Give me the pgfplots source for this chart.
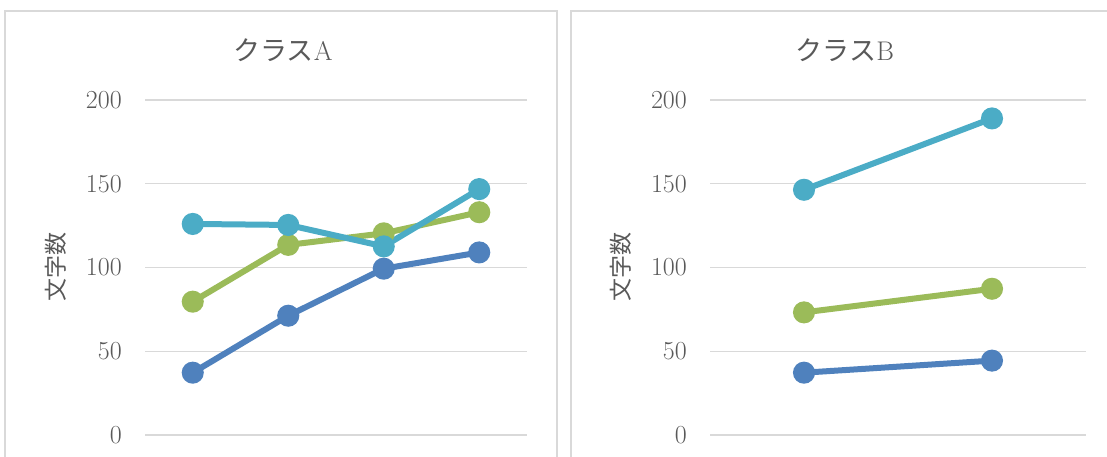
\documentclass[border=0pt]{standalone}
\usepackage{fontspec}
\usepackage{pgfplots}
\pgfplotsset{compat=1.18}
\newfontfamily\jp{Noto Sans CJK JP}
\definecolor{sBlue}{HTML}{4F81BD}
\definecolor{sGreen}{HTML}{9BBB59}
\definecolor{sCyan}{HTML}{4BACC6}
\definecolor{txt}{HTML}{595959}
\definecolor{gridc}{HTML}{D9D9D9}
\pgfplotsset{
  panel/.style={
    scale only axis, height=335pt, ymin=0, ymax=200, ytick={0,50,...,200},
    xtick=\empty, axis line style={draw=none}, major tick length=0pt,
    ymajorgrids, grid style={gridc, line width=1.3pt},
    /pgf/number format/assume math mode=true,
    yticklabel style={font=\fontsize{26}{30}\selectfont, text=txt, inner sep=0pt, xshift=-23pt},
    ylabel={\jp 文字数},
    ylabel style={at={(axis description cs:0,0.5)}, anchor=center, yshift=89pt, font=\fontsize{23}{26}\selectfont, text=txt},
    every axis plot/.append style={line width=6pt, mark=*, mark size=8pt, mark options={solid}},
    clip=false,
  }
}
\begin{document}
\begin{tikzpicture}[x=1pt,y=1pt]
\useasboundingbox (0,0) rectangle (1107,457);
\draw[gridc, line width=1.5pt] (5,-20) rectangle (557,446);
\draw[gridc, line width=1.5pt] (571,-20) rectangle (1140,446);
\node[text=txt, font=\fontsize{27}{30}\selectfont] at (283,407) {{\jp クラス}A};
\node[text=txt, font=\fontsize{27}{30}\selectfont] at (845,407) {{\jp クラス}B};
\begin{axis}[panel, at={(145pt,22pt)}, anchor=south west, width=382pt, xmin=0.5, xmax=4.5]
\addplot[sBlue] coordinates {(1,37.2) (2,71.2) (3,99.3) (4,109)};
\addplot[sGreen] coordinates {(1,79.6) (2,113.5) (3,120.4) (4,133)};
\addplot[sCyan] coordinates {(1,126) (2,125.4) (3,112.6) (4,146.8)};
\end{axis}
\begin{axis}[panel, at={(710pt,22pt)}, anchor=south west, width=376pt, xmin=0.5, xmax=2.5]
\addplot[sBlue] coordinates {(1,37.2) (2,44.4)};
\addplot[sGreen] coordinates {(1,73.2) (2,87.3)};
\addplot[sCyan] coordinates {(1,146.4) (2,189)};
\end{axis}
\end{tikzpicture}
\end{document}
